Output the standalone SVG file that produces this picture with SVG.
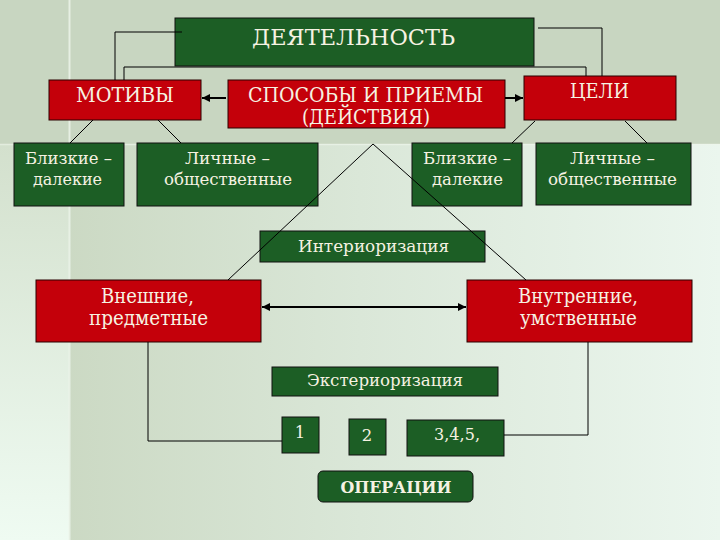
<svg xmlns="http://www.w3.org/2000/svg" width="720" height="540" viewBox="0 0 720 540">
<defs>
<linearGradient id="bgMain" x1="0" y1="0" x2="1" y2="0">
<stop offset="0" stop-color="#c8d6bf"/>
<stop offset="0.5" stop-color="#dae7d8"/>
<stop offset="1" stop-color="#ebf6ee"/>
</linearGradient>
<linearGradient id="bgLeft" x1="0" y1="0" x2="0" y2="1">
<stop offset="0" stop-color="#d3e0cd"/>
<stop offset="1" stop-color="#effbf2"/>
</linearGradient>
<marker id="ah" viewBox="0 0 10 10" refX="10" refY="5" markerWidth="4" markerHeight="4" orient="auto-start-reverse" markerUnits="strokeWidth">
<path d="M0,0 L10,5 L0,10 z" fill="#000"/>
</marker>
<style>
.g{fill:#1c5e25;stroke:#111;stroke-width:1}
.r{fill:#c4000a;stroke:#2a0000;stroke-width:1}
.t{font-family:"DejaVu Serif","Liberation Serif",serif;fill:#f6f2e2;text-anchor:middle}
.mid{font-size:19.5px}
.sm{font-size:16.5px}
.b{font-weight:bold}
.c{fill:none;stroke:#000;stroke-width:1}
.a{fill:none;stroke:#000;stroke-width:2}
</style>
</defs>
<rect width="720" height="540" fill="url(#bgMain)"/>
<rect x="0" y="145" width="69" height="395" fill="url(#bgLeft)"/>
<rect x="0" y="0" width="720" height="144" fill="#c8d6c1"/>
<line x1="0" y1="144.5" x2="720" y2="144.5" stroke="#eef6ec" stroke-width="1.5" opacity="0.7"/>
<line x1="69.5" y1="0" x2="69.5" y2="540" stroke="#eef6ec" stroke-width="2" opacity="0.8"/>

<g id="n-deyat">
<rect class="g" x="175" y="18" width="359" height="48"/>
<text class="t" x="353.5" y="45" style="font-size:23px" textLength="203" lengthAdjust="spacingAndGlyphs">ДЕЯТЕЛЬНОСТЬ</text>
</g>
<g id="n-motivy">
<rect class="r" x="49" y="80" width="152" height="40"/>
<text class="t mid" x="125" y="102" textLength="98" lengthAdjust="spacingAndGlyphs">МОТИВЫ</text>
</g>
<g id="n-sposoby">
<rect class="r" x="228" y="80" width="277" height="48"/>
<text class="t mid" x="365.5" y="102" textLength="235" lengthAdjust="spacingAndGlyphs">СПОСОБЫ И ПРИЕМЫ</text>
<text class="t mid" x="366" y="124" textLength="128" lengthAdjust="spacingAndGlyphs">(ДЕЙСТВИЯ)</text>
</g>
<g id="n-celi">
<rect class="r" x="524" y="76" width="152" height="44"/>
<text class="t mid" x="599.5" y="98" textLength="59" lengthAdjust="spacingAndGlyphs">ЦЕЛИ</text>
</g>
<g id="n-blizkie1">
<rect class="g" x="14" y="143" width="110" height="63"/>
<text class="t sm" x="68.5" y="164" textLength="87" lengthAdjust="spacingAndGlyphs">Близкие –</text>
<text class="t sm" x="67.5" y="185" textLength="69" lengthAdjust="spacingAndGlyphs">далекие</text>
</g>
<g id="n-lichnye1">
<rect class="g" x="137" y="143" width="181" height="63"/>
<text class="t sm" x="227.5" y="164" textLength="85" lengthAdjust="spacingAndGlyphs">Личные –</text>
<text class="t sm" x="228" y="185" textLength="128" lengthAdjust="spacingAndGlyphs">общественные</text>
</g>
<g id="n-blizkie2">
<rect class="g" x="412" y="143" width="110" height="63"/>
<text class="t sm" x="467" y="164" textLength="88" lengthAdjust="spacingAndGlyphs">Близкие –</text>
<text class="t sm" x="467.5" y="185" textLength="71" lengthAdjust="spacingAndGlyphs">далекие</text>
</g>
<g id="n-lichnye2">
<rect class="g" x="536" y="143" width="155" height="62"/>
<text class="t sm" x="612.5" y="164" textLength="85" lengthAdjust="spacingAndGlyphs">Личные –</text>
<text class="t sm" x="612.5" y="185" textLength="129" lengthAdjust="spacingAndGlyphs">общественные</text>
</g>
<g id="n-inter">
<rect class="g" x="260" y="231" width="225" height="31"/>
<text class="t sm" x="373.5" y="252" textLength="151" lengthAdjust="spacingAndGlyphs">Интериоризация</text>
</g>
<g id="n-vneshnie">
<rect class="r" x="36" y="280" width="225" height="62"/>
<text class="t mid" x="147.5" y="303" textLength="93" lengthAdjust="spacingAndGlyphs">Внешние,</text>
<text class="t mid" x="148.5" y="325" textLength="119" lengthAdjust="spacingAndGlyphs">предметные</text>
</g>
<g id="n-vnutr">
<rect class="r" x="467" y="280" width="225" height="62"/>
<text class="t mid" x="578" y="303" textLength="120" lengthAdjust="spacingAndGlyphs">Внутренние,</text>
<text class="t mid" x="578.5" y="325" textLength="117" lengthAdjust="spacingAndGlyphs">умственные</text>
</g>
<g id="n-exter">
<rect class="g" x="272" y="367" width="226" height="29"/>
<text class="t sm" x="385" y="386" textLength="156" lengthAdjust="spacingAndGlyphs">Экстериоризация</text>
</g>
<g id="n-1">
<rect class="g" x="282" y="417" width="37" height="36"/>
<text class="t sm" x="300" y="438">1</text>
</g>
<g id="n-2">
<rect class="g" x="349" y="419" width="37" height="36"/>
<text class="t sm" x="367" y="441">2</text>
</g>
<g id="n-345">
<rect class="g" x="407" y="420" width="97" height="36"/>
<text class="t sm" x="457" y="440" textLength="46" lengthAdjust="spacingAndGlyphs">3,4,5,</text>
</g>
<g id="n-oper">
<rect class="g" x="318" y="471" width="155" height="31" rx="5" ry="5"/>
<text class="t sm b" x="396" y="493" textLength="111" lengthAdjust="spacingAndGlyphs">ОПЕРАЦИИ</text>
</g>

<g id="connectors">
<polyline class="c" points="182,32 115,32 115,80"/>
<polyline class="c" points="124,80 124,67 586,67 586,76"/>
<polyline class="c" points="538,28 602,28 602,76"/>
<line class="a" x1="226" y1="98" x2="202" y2="98" marker-end="url(#ah)"/>
<line class="a" x1="505" y1="98" x2="523" y2="98" marker-end="url(#ah)"/>
<line class="c" x1="93" y1="120" x2="70" y2="143"/>
<line class="c" x1="158" y1="120" x2="181" y2="143"/>
<line class="c" x1="535" y1="121" x2="512" y2="143"/>
<line class="c" x1="625" y1="121" x2="647" y2="143"/>
<polyline class="c" points="228,280 373,144 526,280"/>
<line class="a" x1="262" y1="307" x2="466" y2="307" marker-start="url(#ah)" marker-end="url(#ah)"/>
<polyline class="c" points="148,342 148,441 282,441"/>
<polyline class="c" points="504,435 588,435 588,342"/>
</g>
</svg>
